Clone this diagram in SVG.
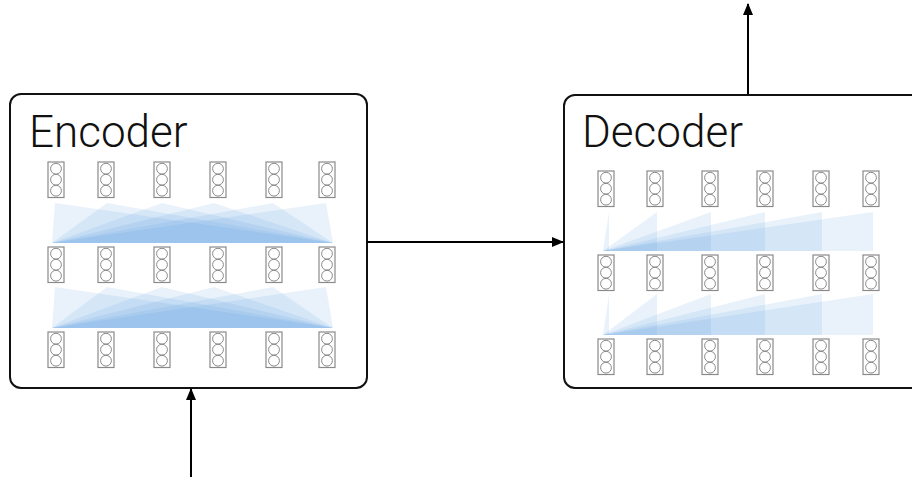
<svg xmlns="http://www.w3.org/2000/svg" xmlns:xlink="http://www.w3.org/1999/xlink" width="912" height="477" viewBox="0 0 912 477">
  <style>
    .box { fill: #ffffff; stroke: #111111; stroke-width: 2; }
    .title { font-family: Roboto, "Liberation Sans", "DejaVu Sans", sans-serif; font-weight: 300; font-size: 44px; fill: #111111; }
    .cellframe { fill: #ffffff; stroke: #8a8a8a; stroke-width: 1.2; }
    .unit { fill: none; stroke: #8a8a8a; stroke-width: 1; }
    .fan { fill: #4a90e2; fill-opacity: 0.12; stroke: none; }
    .link { stroke: #000000; stroke-width: 2; fill: none; }
  </style>
  <defs>
    <marker id="arrowhead" viewBox="0 0 12 10" refX="11" refY="5" markerWidth="12" markerHeight="10" markerUnits="userSpaceOnUse" orient="auto">
      <path d="M0,0 L12,5 L0,10 z" fill="#000000"/>
    </marker>
    <!-- one hidden-state vector: a frame with three units, anchored at its top centre -->
    <g id="cell">
      <rect class="cellframe" x="-8" y="0" width="16" height="35.5"/>
      <circle class="unit" cx="0" cy="6.7" r="5.4"/>
      <circle class="unit" cx="0" cy="17.7" r="5.4"/>
      <circle class="unit" cx="0" cy="28.7" r="5.4"/>
    </g>
  </defs>

  <!-- Encoder: bidirectional self-attention -->
  <g id="encoder">
    <rect class="box" x="10" y="94" width="357" height="294" rx="11" ry="11"/>
    <text class="title" x="29" y="147">Encoder</text>
    <g id="encoder-attention">
      <polygon class="fan" points="55,203 52,243 333,243"/>
      <polygon class="fan" points="107,203 52,243 333,243"/>
      <polygon class="fan" points="162,203 52,243 333,243"/>
      <polygon class="fan" points="214,203 52,243 333,243"/>
      <polygon class="fan" points="273,203 52,243 333,243"/>
      <polygon class="fan" points="326,203 52,243 333,243"/>
      <polygon class="fan" points="55,287 52,328 333,328"/>
      <polygon class="fan" points="107,287 52,328 333,328"/>
      <polygon class="fan" points="162,287 52,328 333,328"/>
      <polygon class="fan" points="214,287 52,328 333,328"/>
      <polygon class="fan" points="273,287 52,328 333,328"/>
      <polygon class="fan" points="326,287 52,328 333,328"/>
    </g>
    <g id="encoder-cells">
      <use xlink:href="#cell" x="56" y="162"/>
      <use xlink:href="#cell" x="106" y="162"/>
      <use xlink:href="#cell" x="162" y="162"/>
      <use xlink:href="#cell" x="218" y="162"/>
      <use xlink:href="#cell" x="274" y="162"/>
      <use xlink:href="#cell" x="327" y="162"/>
      <use xlink:href="#cell" x="56" y="247"/>
      <use xlink:href="#cell" x="106" y="247"/>
      <use xlink:href="#cell" x="162" y="247"/>
      <use xlink:href="#cell" x="218" y="247"/>
      <use xlink:href="#cell" x="274" y="247"/>
      <use xlink:href="#cell" x="327" y="247"/>
      <use xlink:href="#cell" x="56" y="332"/>
      <use xlink:href="#cell" x="106" y="332"/>
      <use xlink:href="#cell" x="162" y="332"/>
      <use xlink:href="#cell" x="218" y="332"/>
      <use xlink:href="#cell" x="274" y="332"/>
      <use xlink:href="#cell" x="327" y="332"/>
    </g>
  </g>

  <!-- Decoder: causal (masked) self-attention -->
  <g id="decoder">
    <rect class="box" x="564" y="95" width="360" height="293" rx="11" ry="11"/>
    <text class="title" x="582" y="147">Decoder</text>
    <g id="decoder-attention">
      <polygon class="fan" points="609,212 609,251 603,251"/>
      <polygon class="fan" points="657,212 657,251 603,251"/>
      <polygon class="fan" points="711,212 711,251 603,251"/>
      <polygon class="fan" points="765,212 765,251 603,251"/>
      <polygon class="fan" points="822,212 822,251 603,251"/>
      <polygon class="fan" points="873,212 873,251 603,251"/>
      <polygon class="fan" points="609,294 609,335 603,335"/>
      <polygon class="fan" points="657,294 657,335 603,335"/>
      <polygon class="fan" points="711,294 711,335 603,335"/>
      <polygon class="fan" points="765,294 765,335 603,335"/>
      <polygon class="fan" points="822,294 822,335 603,335"/>
      <polygon class="fan" points="873,294 873,335 603,335"/>
    </g>
    <g id="decoder-cells">
      <use xlink:href="#cell" x="606" y="171"/>
      <use xlink:href="#cell" x="655" y="171"/>
      <use xlink:href="#cell" x="710" y="171"/>
      <use xlink:href="#cell" x="765" y="171"/>
      <use xlink:href="#cell" x="821" y="171"/>
      <use xlink:href="#cell" x="871" y="171"/>
      <use xlink:href="#cell" x="606" y="255"/>
      <use xlink:href="#cell" x="655" y="255"/>
      <use xlink:href="#cell" x="710" y="255"/>
      <use xlink:href="#cell" x="765" y="255"/>
      <use xlink:href="#cell" x="821" y="255"/>
      <use xlink:href="#cell" x="871" y="255"/>
      <use xlink:href="#cell" x="606" y="339"/>
      <use xlink:href="#cell" x="655" y="339"/>
      <use xlink:href="#cell" x="710" y="339"/>
      <use xlink:href="#cell" x="765" y="339"/>
      <use xlink:href="#cell" x="821" y="339"/>
      <use xlink:href="#cell" x="871" y="339"/>
    </g>
  </g>

  <!-- Connectors -->
  <g id="connectors">
    <line class="link" x1="191" y1="477" x2="191" y2="389" marker-end="url(#arrowhead)"/>
    <line class="link" x1="367" y1="242" x2="563" y2="242" marker-end="url(#arrowhead)"/>
    <line class="link" x1="748" y1="94" x2="748" y2="4" marker-end="url(#arrowhead)"/>
  </g>
</svg>
